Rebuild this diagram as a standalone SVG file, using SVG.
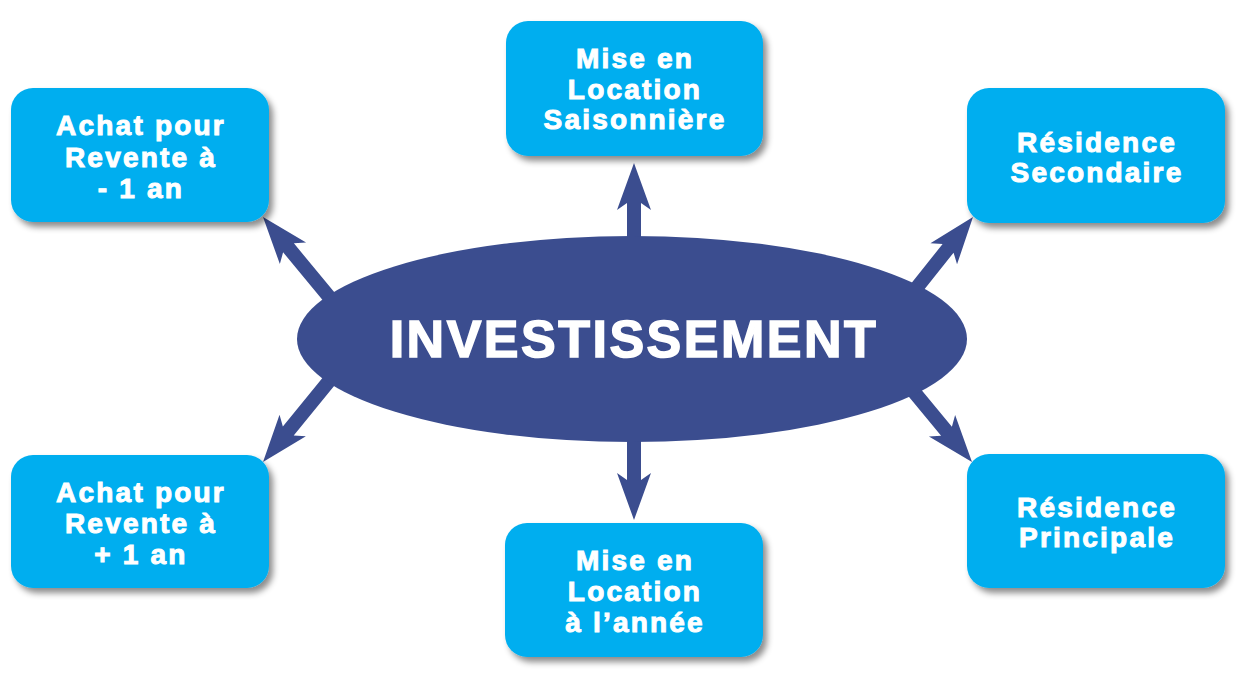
<svg xmlns="http://www.w3.org/2000/svg" width="1240" height="681" viewBox="0 0 1240 681">
<style>
.box{fill:#00aeef;filter:url(#sh)}
.lbl{font-family:"Liberation Sans",Arial,sans-serif;font-weight:bold;font-size:28px;fill:#fff;stroke:#fff;stroke-width:1;text-anchor:middle;letter-spacing:2.2px}
.arr{fill:#3b4d8f}
.main{font-family:"Liberation Sans",Arial,sans-serif;font-weight:bold;font-size:52px;fill:#fff;stroke:#fff;stroke-width:1.5;text-anchor:middle;letter-spacing:2.5px}
</style>
<defs>
<filter id="sh" x="-10%" y="-10%" width="130%" height="140%">
<feDropShadow dx="4" dy="5" stdDeviation="3" flood-color="#000" flood-opacity="0.45"/>
</filter>
<path id="ar" d="M0,0 L17,47 L7,40 L7,160 L-7,160 L-7,40 L-17,47 Z"/>
</defs>
<rect width="1240" height="681" fill="#fff"/>
<g id="connectors" class="arr">
<use href="#ar" transform="translate(634,163)"/>
<use href="#ar" transform="translate(634,520) rotate(180)"/>
<use href="#ar" transform="translate(263,217) rotate(-39.6)"/>
<use href="#ar" transform="translate(973,217) rotate(38.5)"/>
<use href="#ar" transform="translate(972,462) rotate(140.4)"/>
<use href="#ar" transform="translate(263,462) rotate(-140.8)"/>
</g>
<g id="center">
<ellipse cx="632" cy="339" rx="335" ry="103" fill="#3b4d8f"/>
<text class="main" x="634" y="357">INVESTISSEMENT</text>
</g>
<g id="n-achat-moins">
<rect class="box" x="11" y="88" width="258" height="134" rx="22"/>
<text class="lbl" x="141" y="135">Achat pour</text>
<text class="lbl" x="141" y="167">Revente à</text>
<text class="lbl" x="141" y="198">- 1 an</text>
</g>
<g id="n-saison">
<rect class="box" x="506" y="21" width="257" height="135" rx="22"/>
<text class="lbl" x="635" y="68">Mise en</text>
<text class="lbl" x="635" y="99">Location</text>
<text class="lbl" x="635" y="129">Saisonnière</text>
</g>
<g id="n-secondaire">
<rect class="box" x="967" y="88" width="258" height="135" rx="22"/>
<text class="lbl" x="1097" y="152">Résidence</text>
<text class="lbl" x="1097" y="182">Secondaire</text>
</g>
<g id="n-achat-plus">
<rect class="box" x="11" y="455" width="258" height="133" rx="22"/>
<text class="lbl" x="141" y="502">Achat pour</text>
<text class="lbl" x="141" y="533">Revente à</text>
<text class="lbl" x="141" y="564">+ 1 an</text>
</g>
<g id="n-annee">
<rect class="box" x="505" y="523" width="258" height="134" rx="22"/>
<text class="lbl" x="635" y="570">Mise en</text>
<text class="lbl" x="635" y="601">Location</text>
<text class="lbl" x="635" y="632">à l’année</text>
</g>
<g id="n-principale">
<rect class="box" x="967" y="454" width="258" height="134" rx="22"/>
<text class="lbl" x="1097" y="517">Résidence</text>
<text class="lbl" x="1097" y="547">Principale</text>
</g>
</svg>
